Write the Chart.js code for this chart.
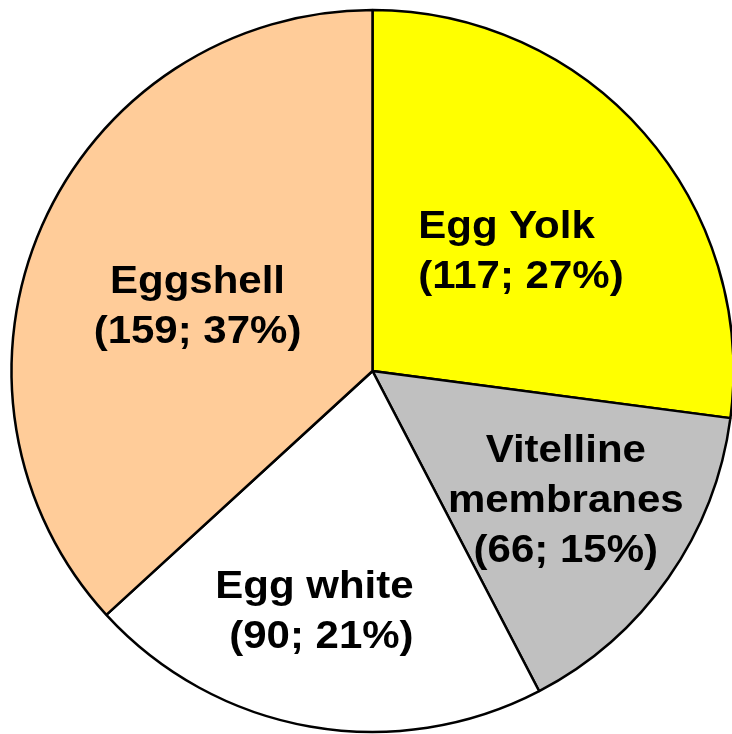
<!DOCTYPE html>
<html>
<head>
<meta charset="utf-8">
<script src="https://cdn.jsdelivr.net/npm/chart.js@4/dist/chart.umd.min.js"></script>
<style>
  html, body { margin: 0; padding: 0; background: #ffffff; overflow: hidden; }
  #wrap { width: 732px; height: 734px; }
</style>
</head>
<body>
<div id="wrap"><canvas id="pie" width="732" height="734"></canvas></div>
<script>
// Egg components, clockwise from 12 o'clock
const categories = [['Egg Yolk'], ['Vitelline', 'membranes'], ['Egg white'], ['Eggshell']];
const values = [117, 66, 90, 159];
const sliceColors = ['#ffff00', '#c0c0c0', '#ffffff', '#ffcc99'];

// Label placement: distance as a fraction of the radius, a small angular
// nudge (degrees) away from the slice's mid-angle, and line alignment.
const labelPlacement = [
  { frac: 0.531, nudge: 2.0, align: 'left' },
  { frac: 0.642, nudge: -1.5, align: 'center' },
  { frac: 0.679, nudge: 3.7, align: 'right' },
  { frac: 0.519, nudge: -2.8, align: 'center' }
];

const total = values.reduce((a, b) => a + b, 0);

const sliceLabels = {
  id: 'sliceLabels',
  afterDatasetsDraw(chart) {
    const ctx = chart.ctx;
    const meta = chart.getDatasetMeta(0);
    const fontPx = 38;
    const stretch = 1.105;
    const lineH = 50;
    const capHalf = 13.5;
    ctx.save();
    ctx.font = 'bold ' + fontPx + 'px "Liberation Sans", Arial, sans-serif';
    ctx.fillStyle = '#000000';
    ctx.textBaseline = 'alphabetic';
    ctx.textAlign = 'left';
    meta.data.forEach((arc, i) => {
      const p = arc.getProps(['x', 'y', 'startAngle', 'endAngle', 'outerRadius'], true);
      const place = labelPlacement[i];
      const mid = (p.startAngle + p.endAngle) / 2 + place.nudge * Math.PI / 180;
      const ax = p.x + Math.cos(mid) * p.outerRadius * place.frac;
      const ay = p.y + Math.sin(mid) * p.outerRadius * place.frac;
      const pct = Math.round(values[i] / total * 100);
      const lines = categories[i].concat(['(' + values[i] + '; ' + pct + '%)']);
      const widths = lines.map(t => ctx.measureText(t).width * stretch);
      const maxW = Math.max(...widths);
      const firstCenter = ay - (lines.length - 1) * lineH / 2;
      lines.forEach((t, k) => {
        let left;
        if (place.align === 'left') left = ax - maxW / 2;
        else if (place.align === 'right') left = ax + maxW / 2 - widths[k];
        else left = ax - widths[k] / 2;
        const base = firstCenter + k * lineH + capHalf;
        ctx.save();
        ctx.translate(left, base);
        ctx.scale(stretch, 1);
        ctx.fillText(t, 0, 0);
        ctx.restore();
      });
    });
    ctx.restore();
  }
};

new Chart(document.getElementById('pie'), {
  type: 'pie',
  data: {
    labels: categories.map(c => c.join(' ')),
    datasets: [{
      data: values,
      backgroundColor: sliceColors,
      borderColor: '#000000',
      borderWidth: 2.5,
      radius: 361
    }]
  },
  options: {
    responsive: false,
    animation: false,
    events: [],
    layout: { padding: { left: 13, top: 8, right: 0, bottom: 0 } },
    plugins: {
      legend: { display: false },
      tooltip: { enabled: false }
    }
  },
  plugins: [sliceLabels]
});
</script>
</body>
</html>
